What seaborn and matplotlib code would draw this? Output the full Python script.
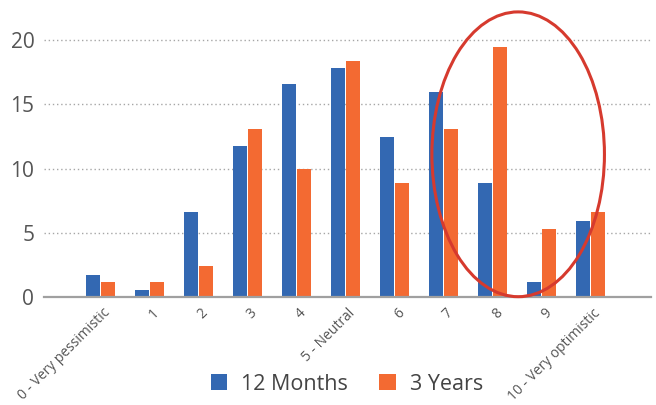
import matplotlib
matplotlib.use("Agg")
import matplotlib.pyplot as plt
import matplotlib.transforms as mtransforms
from matplotlib.patches import Ellipse, Patch
import seaborn as sns
import pandas as pd

categories = ["0 - Very pessimistic", "1", "2", "3", "4", "5 - Neutral",
              "6", "7", "8", "9", "10 - Very optimistic"]
months_12 = [1.7, 0.6, 6.6, 11.8, 16.6, 17.8, 12.5, 16.0, 8.9, 1.2, 5.9]
years_3 = [1.2, 1.2, 2.4, 13.1, 10.0, 18.4, 8.9, 13.1, 19.5, 5.3, 6.6]
series = ["12 Months", "3 Years"]
colors = {"12 Months": "#3368B2", "3 Years": "#F36A32"}

df = pd.DataFrame({
    "category": categories * 2,
    "value": months_12 + years_3,
    "series": [series[0]] * len(categories) + [series[1]] * len(categories),
})

sns.set_theme(style="white")
plt.rcParams["font.family"] = ["Open Sans", "DejaVu Sans"]

fig = plt.figure(figsize=(6.56, 4.05), dpi=100)
ax = fig.add_axes([0.0671, 0.266, 0.9253, 0.7143])

sns.barplot(data=df, x="category", y="value", hue="series", order=categories,
            hue_order=series, palette=colors, width=0.6, gap=0.05,
            saturation=1, legend=False, ax=ax, edgecolor="none", linewidth=0)

ax.set_xlim(-1.153, 11.23)
ax.set_ylim(0, 22.5)
ax.set_yticks([0, 5, 10, 15, 20])
ax.set_yticklabels(["0", "5", "10", "15", "20"])
ax.set_xlabel("")
ax.set_ylabel("")

for y in [5, 10, 15, 20]:
    ax.axhline(y, color="#a6a6a6", linewidth=1.0, linestyle=(0, (1, 2)), zorder=0)

for s in ["top", "right", "left"]:
    ax.spines[s].set_visible(False)
ax.spines["bottom"].set_color("#a0a0a0")
ax.spines["bottom"].set_linewidth(1.6)

ax.tick_params(axis="y", length=0, pad=7, labelsize=15, labelcolor="#555555")
ax.tick_params(axis="x", length=0, pad=6, labelsize=10, labelcolor="#555555")
offset = mtransforms.ScaledTranslation(2 / 100, 0, fig.dpi_scale_trans)
for lbl in ax.get_xticklabels():
    lbl.set_rotation(45)
    lbl.set_ha("right")
    lbl.set_va("top")
    lbl.set_rotation_mode("anchor")
    lbl.set_transform(lbl.get_transform() + offset)

ell = Ellipse((8.52, 11.12), width=3.52, height=22.15, fill=False,
              edgecolor="#D63A2E", linewidth=2.2, clip_on=False, zorder=5)
ax.add_patch(ell)

handles = [Patch(facecolor=colors[s], edgecolor="none") for s in series]
fig.legend(handles, series, loc="lower center", bbox_to_anchor=(0.529, -0.022),
           ncol=2, frameon=False, fontsize=15.5, handlelength=0.75, handleheight=0.75,
           handletextpad=0.65, columnspacing=1.45, labelcolor="#444444")

fig.savefig("out.png", dpi=100)
